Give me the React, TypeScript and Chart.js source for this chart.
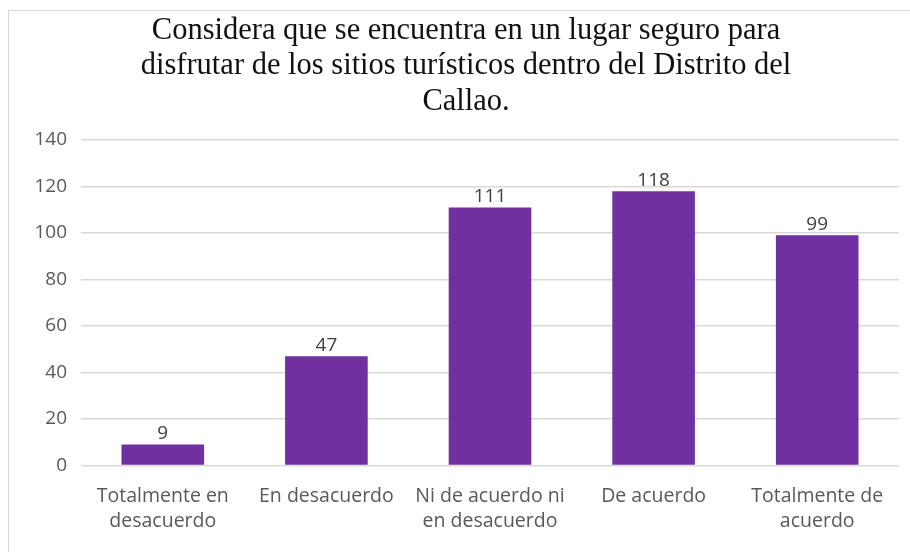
import React, { useEffect, useRef } from "react";
import { Chart, registerables } from "chart.js";

Chart.register(...registerables);

const titleLines: string[] = [
  "Considera que se encuentra en un lugar seguro para",
  "disfrutar de los sitios turísticos dentro del Distrito del",
  "Callao.",
];
const categories: string[][] = [
  ["Totalmente en", "desacuerdo"],
  ["En desacuerdo"],
  ["Ni de acuerdo ni", "en desacuerdo"],
  ["De acuerdo"],
  ["Totalmente de", "acuerdo"],
];
const values: number[] = [9, 47, 111, 118, 99];
const yMin = 0;
const yMax = 140;
const yStep = 20;

const BAR_COLOR = "#7030A0";
const LABEL_COLOR = "#595959";
const SANS = "'Open Sans', 'DejaVu Sans', sans-serif";

const valueLabels = {
  id: "valueLabels",
  afterDatasetsDraw(chart: any) {
    const ctx = chart.ctx;
    const meta = chart.getDatasetMeta(0);
    ctx.save();
    ctx.font = `19px ${SANS}`;
    ctx.fillStyle = "#404040";
    ctx.textAlign = "center";
    ctx.textBaseline = "bottom";
    meta.data.forEach((bar: any, i: number) => {
      ctx.fillText(String(chart.data.datasets[0].data[i]), bar.x, bar.y - 1);
    });
    ctx.restore();
  },
};

export default function App() {
  const ref = useRef<HTMLCanvasElement | null>(null);

  useEffect(() => {
    if (!ref.current) return;
    const chart = new Chart(ref.current, {
      type: "bar",
      data: {
        labels: categories,
        datasets: [
          {
            data: values,
            backgroundColor: BAR_COLOR,
            borderWidth: 0,
            categoryPercentage: 1,
            barPercentage: 0.505,
          },
        ],
      },
      options: {
        animation: false,
        responsive: false,
        maintainAspectRatio: false,
        layout: { padding: { left: 33, right: 11, top: 0, bottom: 0 } },
        plugins: {
          legend: { display: false },
          tooltip: { enabled: false },
          title: {
            display: true,
            text: titleLines,
            color: "#111",
            font: { family: "'Liberation Serif', 'Times New Roman', serif", size: 30.5, weight: "normal", lineHeight: "35.5px" } as any,
            padding: { top: 13, bottom: 20.5 },
          },
        },
        scales: {
          x: {
            grid: { display: false },
            border: { display: false },
            ticks: {
              color: LABEL_COLOR,
              font: { family: SANS, size: 19.5, lineHeight: "25px" } as any,
              padding: 10,
              maxRotation: 0,
              autoSkip: false,
            },
            afterFit(scale: any) {
              scale.height = 86.5;
            },
          },
          y: {
            min: yMin,
            max: yMax,
            grid: { color: "#d9d9d9", lineWidth: 1.5, drawTicks: false },
            border: { display: false },
            ticks: {
              stepSize: yStep,
              color: LABEL_COLOR,
              font: { family: SANS, size: 19 },
              padding: 14,
            },
            afterFit(scale: any) {
              scale.width = 48;
            },
          },
        },
      },
      plugins: [valueLabels],
    });
    return () => chart.destroy();
  }, []);

  return (
    <div style={{ position: "fixed", left: 0, top: 0, width: 910, height: 552, background: "#fff", overflow: "hidden" }}>
      <div
        style={{
          position: "absolute",
          left: 8,
          top: 10,
          width: 920,
          height: 560,
          borderLeft: "1.5px solid #d9d9d9",
          borderTop: "1.5px solid #d9d9d9",
        }}
      />
      <canvas ref={ref} width={910} height={552} style={{ position: "absolute", left: 0, top: 0 }} />
    </div>
  );
}
